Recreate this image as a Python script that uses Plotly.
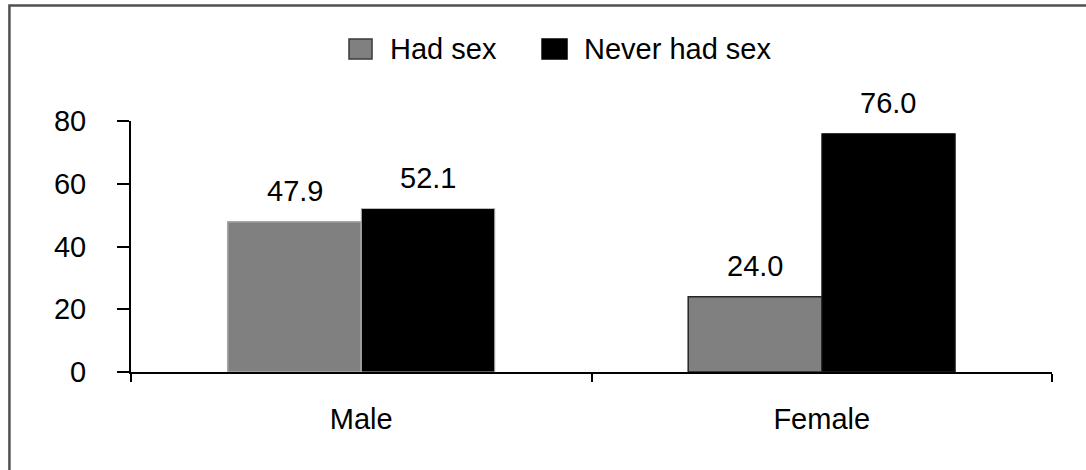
import plotly.graph_objects as go

categories = ["Male", "Female"]
had_sex = [47.9, 24.0]
never_had_sex = [52.1, 76.0]
series_names = ["Had sex", "Never had sex"]
series_colors = ["#808080", "#000000"]
y_ticks = [0, 20, 40, 60, 80]

FONT = "Liberation Sans, Arial, sans-serif"
FS = 29

fig = go.Figure()
fig.add_trace(go.Bar(
    x=categories, y=had_sex, name=series_names[0], showlegend=False,
    marker=dict(color=series_colors[0], line=dict(color=["#a8a8a8", "#262626"], width=1.5)),
))
fig.add_trace(go.Bar(
    x=categories, y=never_had_sex, name=series_names[1], showlegend=False,
    marker=dict(color=series_colors[1], line=dict(color=["#bdbdbd", "#303030"], width=1)),
))

# value labels above bars
half = 66.5
for vals, sh in ((had_sex, -half), (never_had_sex, half)):
    for c, v in zip(categories, vals):
        fig.add_annotation(x=c, y=v, text=f"{v:.1f}", showarrow=False,
                           xshift=sh, yshift=13, yanchor="bottom",
                           font=dict(family=FONT, size=FS, color="#000"))

# legend (drawn manually to get large swatches)
legend_items = [
    (series_names[0], series_colors[0], "#3a3a3a", 0.2367, 0.2617, 0.279),
    (series_names[1], series_colors[1], "#000000", 0.4463, 0.4734, 0.4897),
]
for name, col, lcol, sx0, sx1, tx in legend_items:
    fig.add_shape(type="rect", xref="paper", yref="paper", x0=sx0, x1=sx1,
                  y0=1.247, y1=1.3267, fillcolor=col, line=dict(color=lcol, width=1.5))
    fig.add_annotation(xref="paper", yref="paper", x=tx, y=1.2849, text=name,
                       showarrow=False, xanchor="left", yanchor="middle",
                       font=dict(family=FONT, size=FS, color="#000"))

# outer border
fig.add_shape(type="rect", xref="paper", yref="paper",
              x0=-0.132, x1=1.2, y0=-0.6, y1=1.46,
              line=dict(color="#505050", width=2.5), fillcolor="rgba(0,0,0,0)",
              layer="below")

fig.update_layout(
    width=1086, height=470,
    margin=dict(l=131, r=34, t=121, b=98),
    paper_bgcolor="white", plot_bgcolor="white",
    barmode="group", bargap=0.42, bargroupgap=0,
    font=dict(family=FONT, size=FS, color="#000"),
    showlegend=False,
    xaxis=dict(showline=True, linecolor="#000", linewidth=2, ticks="outside",
               tickson="boundaries", ticklen=8, tickwidth=2, tickcolor="#000",
               ticklabelstandoff=20, showgrid=False),
    yaxis=dict(range=[0, 80], tickvals=y_ticks, showline=True, linecolor="#000",
               linewidth=2, ticks="outside", ticklen=12, tickwidth=2, tickcolor="#000",
               ticklabelstandoff=25, showgrid=False, zeroline=False),
)

fig.write_html("out.html", config={"displayModeBar": False},
               post_script="document.body.style.margin='0';document.body.style.overflow='hidden';")
